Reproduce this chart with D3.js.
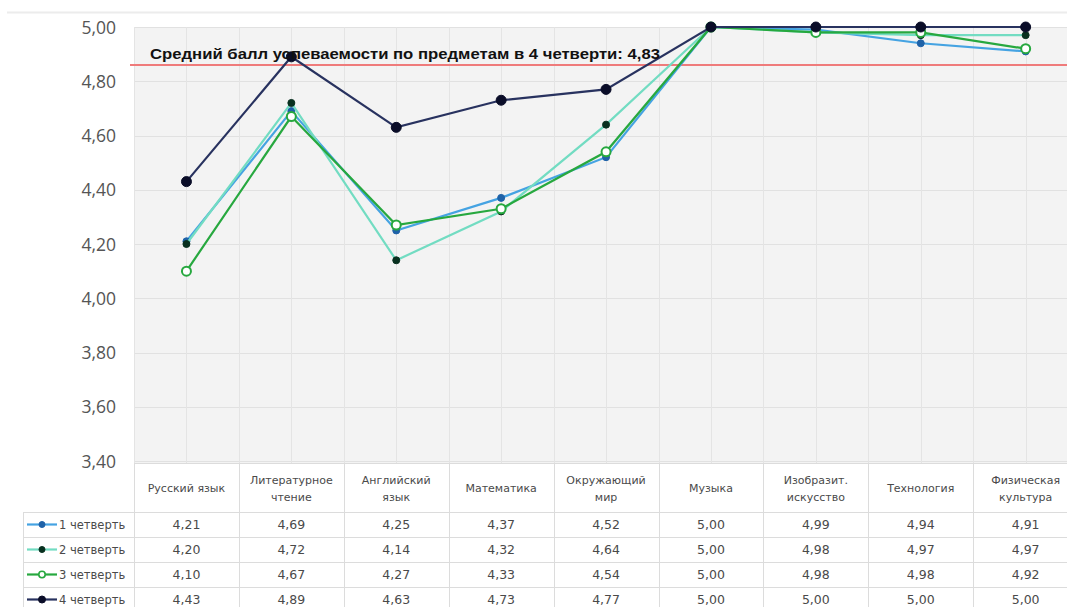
<!DOCTYPE html>
<html><head><meta charset="utf-8">
<script src="https://cdn.jsdelivr.net/npm/d3@7"></script>
<style>body{margin:0;background:#fff;}svg{display:block;}</style>
</head><body><svg id="c" width="1067" height="607"></svg>
<script>
const categories = [["Русский язык"],["Литературное","чтение"],["Английский","язык"],["Математика"],["Окружающий","мир"],["Музыка"],["Изобразит.","искусство"],["Технология"],["Физическая","культура"]];
const seriesNames = ["1 четверть","2 четверть","3 четверть","4 четверть"];
const q1 = [4.21,4.69,4.25,4.37,4.52,5.00,4.99,4.94,4.91];
const q2 = [4.20,4.72,4.14,4.32,4.64,5.00,4.98,4.97,4.97];
const q3 = [4.10,4.67,4.27,4.33,4.54,5.00,4.98,4.98,4.92];
const q4 = [4.43,4.89,4.63,4.73,4.77,5.00,5.00,5.00,5.00];
const yTicks = [3.4,3.6,3.8,4.0,4.2,4.4,4.6,4.8,5.0];
const avgLineValue = 4.86;
const titleText = "Средний балл успеваемости по предметам в 4 четверти: 4,83";

(function(){
const series = [
  {name:seriesNames[0], values:q1, line:"#45a3e2", fill:"#1f62a8", stroke:"#1f62a8", r:3.5},
  {name:seriesNames[1], values:q2, line:"#72dcc2", fill:"#08301f", stroke:"#08301f", r:3.5},
  {name:seriesNames[2], values:q3, line:"#27a83f", fill:"#ffffff", stroke:"#27a83f", r:4.5, sw:2},
  {name:seriesNames[3], values:q4, line:"#28325f", fill:"#0a0d28", stroke:"#0a0d28", r:5}
];

const svg = d3.select("#c");
const left = 134, colW = 104.9, plotTop = 27, plotBottom = 461;
const keys = categories.map(c => c.join(" "));
const x = d3.scaleBand().domain(keys).range([left, left + colW*keys.length]).padding(0);
const y = d3.scaleLinear().domain([3.4, 5.0]).range([plotBottom, plotTop]);
const fmt = v => d3.format(".2f")(v).replace(".", ",");
const tableTop = 463, headerH = 49, rowH = 25;
const tf = "'DejaVu Sans', sans-serif";

svg.append("line").attr("x1",7).attr("x2",1067).attr("y1",12.5).attr("y2",12.5).attr("stroke","#ececec").attr("stroke-width",2);

svg.append("rect").attr("x",left).attr("y",plotTop).attr("width",1067-left).attr("height",tableTop-plotTop).attr("fill","#f3f3f3");

const gridG = svg.append("g");
gridG.selectAll("line.h").data(yTicks).join("line")
  .attr("x1",left).attr("x2",1067).attr("y1",d=>Math.round(y(d))+0.5).attr("y2",d=>Math.round(y(d))+0.5)
  .attr("stroke","#e1e1e1").attr("stroke-width",1);
const vlines = [];
keys.forEach(k => { vlines.push(x(k)); vlines.push(x(k)+x.bandwidth()/2); });
gridG.selectAll("line.v").data(vlines).join("line")
  .attr("x1",d=>Math.round(d)+0.5).attr("x2",d=>Math.round(d)+0.5).attr("y1",plotTop).attr("y2",tableTop)
  .attr("stroke","#e4e4e4").attr("stroke-width",1);

const yAxis = d3.axisLeft(y).tickValues(yTicks).tickFormat(fmt).tickSize(0).tickPadding(0);
const yg = svg.append("g").attr("transform",`translate(116,0)`).call(yAxis);
yg.select(".domain").remove();
yg.selectAll("text").attr("font-family","'Open Sans', sans-serif").attr("font-size",17.5).attr("fill","#555").attr("dy","0.35em");

svg.append("line").attr("x1",130).attr("x2",1067).attr("y1",y(avgLineValue)).attr("y2",y(avgLineValue))
  .attr("stroke","#ef7b7b").attr("stroke-width",2);

const cx = k => x(k) + x.bandwidth()/2;
const lineGen = d3.line().x(d=>cx(d.k)).y(d=>y(d.v));
series.forEach(s => {
  const pts = s.values.map((v,i)=>({k:keys[i], v}));
  svg.append("path").datum(pts).attr("d",lineGen).attr("fill","none").attr("stroke",s.line).attr("stroke-width",2.2);
  svg.append("g").selectAll("circle").data(pts).join("circle")
    .attr("cx",d=>cx(d.k)).attr("cy",d=>y(d.v)).attr("r",s.r)
    .attr("fill",s.fill).attr("stroke",s.stroke).attr("stroke-width",s.sw||1);
});

svg.append("text").attr("x",150).attr("y",59).text(titleText)
  .attr("font-family","'Liberation Sans', Arial, sans-serif").attr("font-weight","bold").attr("font-size",15.5)
  .attr("fill","#111").attr("textLength",510).attr("lengthAdjust","spacingAndGlyphs");

const tg = svg.append("g");
const tableRight = 1067;
const bc = "#dcdcdc";
tg.append("rect").attr("x",left).attr("y",tableTop).attr("width",tableRight-left).attr("height",headerH).attr("fill","#fff");
tg.append("rect").attr("x",23).attr("y",tableTop+headerH).attr("width",tableRight-23).attr("height",rowH*4+10).attr("fill","#fff");
const hb = [tableTop, tableTop+headerH, tableTop+headerH+rowH, tableTop+headerH+2*rowH, tableTop+headerH+3*rowH];
tg.selectAll("line.hb").data(hb).join("line")
  .attr("x1",(d,i)=> i===0 ? left : 23).attr("x2",tableRight).attr("y1",d=>d+0.5).attr("y2",d=>d+0.5)
  .attr("stroke",bc).attr("stroke-width",1);
tg.selectAll("line.vb").data(keys).join("line")
  .attr("x1",d=>Math.round(x(d))+0.5).attr("x2",d=>Math.round(x(d))+0.5).attr("y1",tableTop).attr("y2",607)
  .attr("stroke",bc).attr("stroke-width",1);
tg.append("line").attr("x1",23.5).attr("x2",23.5).attr("y1",tableTop+headerH).attr("y2",607).attr("stroke",bc);

categories.forEach((c,i) => {
  const t = tg.append("text").attr("text-anchor","middle").attr("font-family",tf)
    .attr("font-size",11).attr("fill","#4a4a4a");
  const yc = tableTop + headerH/2;
  if (c.length === 1) {
    t.append("tspan").attr("x",cx(keys[i])).attr("y",yc+4).text(c[0]);
  } else {
    t.append("tspan").attr("x",cx(keys[i])).attr("y",yc-4).text(c[0]);
    t.append("tspan").attr("x",cx(keys[i])).attr("y",yc+13).text(c[1]);
  }
});

series.forEach((s,r) => {
  const ry = tableTop + headerH + r*rowH + rowH/2;
  tg.append("line").attr("x1",27).attr("x2",57).attr("y1",ry).attr("y2",ry).attr("stroke",s.line).attr("stroke-width",2.2);
  tg.append("circle").attr("cx",42).attr("cy",ry).attr("r",s.r===5?3.5:(s.sw?3.2:3)).attr("fill",s.fill).attr("stroke",s.stroke).attr("stroke-width",s.sw?1.6:1);
  tg.append("text").attr("x",59).attr("y",ry+4).text(s.name).attr("font-family",tf)
    .attr("font-size",11.5).attr("fill","#4a4a4a");
  tg.selectAll(null).data(s.values).join("text")
    .attr("x",(d,i)=>cx(keys[i])).attr("y",ry+4.5).attr("text-anchor","middle")
    .attr("font-family",tf).attr("font-size",12.5).attr("fill","#4a4a4a")
    .text(d=>fmt(d));
});
})();
</script></body></html>
